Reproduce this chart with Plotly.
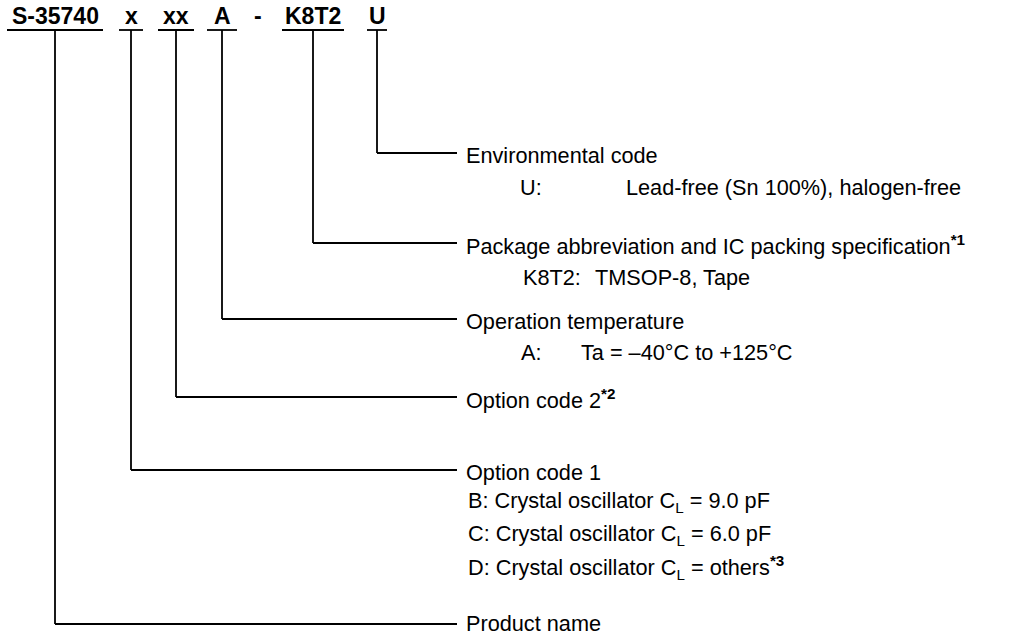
import plotly.graph_objects as go

# ---- data ----
code_labels = ["S-35740", "x", "xx", "A", "-", "K8T2", "U"]
code_centers = [55, 131, 176, 222, 258, 313, 377]
code_underline_half = [48, 12, 18, 15, 0, 31, 10]

# branch: which code each description belongs to (index into code_labels)
branch_code = [6, 5, 3, 2, 1, 0]
branch_y = [153, 243, 319, 397, 470, 624]
headings = [
    "Environmental code",
    "Package abbreviation and IC packing specification<sup><b>*1</b></sup>",
    "Operation temperature",
    "Option code 2<sup><b>*2</b></sup>",
    "Option code 1",
    "Product name",
]

# detail lines
detail_text = [
    "U:", "Lead-free (Sn 100%), halogen-free",
    "K8T2:", "TMSOP-8, Tape",
    "A:", "Ta = \u201340\u00b0C to +125\u00b0C",
    "B: Crystal oscillator C<sub>L</sub> = 9.0 pF",
    "C: Crystal oscillator C<sub>L</sub> = 6.0 pF",
    "D: Crystal oscillator C<sub>L</sub> = others<sup><b>*3</b></sup>",
]
detail_x = [519, 625, 522, 594, 520, 580, 467, 467, 467]
detail_y = [187, 187, 277, 277, 352, 352, 502, 535, 567]

W, H = 1017, 637
line_end_x = 457
text_x = 465
top_y = 30
FONT = "Liberation Sans, Arial, sans-serif"
BODY = 21.7

fig = go.Figure()
fig.add_trace(go.Scatter(x=[0, W], y=[0, H], mode="markers",
                         marker=dict(opacity=0), hoverinfo="skip", showlegend=False))

shapes = []
annotations = []
line_style = dict(color="black", width=1.8)

# code labels + underlines
for lab, cx, hw in zip(code_labels, code_centers, code_underline_half):
    annotations.append(dict(x=cx, y=16, text="<b>%s</b>" % lab, showarrow=False,
                            xanchor="center", yanchor="middle", borderpad=0,
                            font=dict(family=FONT, size=23, color="black")))
    if hw > 0:
        shapes.append(dict(type="line", x0=cx - hw, x1=cx + hw, y0=top_y, y1=top_y,
                           xref="x", yref="y", line=line_style))

# branches
for ci, by, head in zip(branch_code, branch_y, headings):
    sx = code_centers[ci]
    shapes.append(dict(type="line", x0=sx, x1=sx, y0=top_y, y1=by,
                       xref="x", yref="y", line=line_style))
    shapes.append(dict(type="line", x0=sx, x1=line_end_x, y0=by, y1=by,
                       xref="x", yref="y", line=line_style))
    annotations.append(dict(x=text_x, y=min(by + 2, H - 14), text=head, showarrow=False,
                            xanchor="left", yanchor="middle", borderpad=0,
                            font=dict(family=FONT, size=BODY, color="black")))

for t, x, y in zip(detail_text, detail_x, detail_y):
    annotations.append(dict(x=x, y=y, text=t, showarrow=False,
                            xanchor="left", yanchor="middle", borderpad=0,
                            font=dict(family=FONT, size=BODY, color="black")))

fig.update_layout(
    width=W, height=H, margin=dict(l=0, r=0, t=0, b=0),
    paper_bgcolor="white", plot_bgcolor="white",
    xaxis=dict(range=[0, W], visible=False, fixedrange=True),
    yaxis=dict(range=[H, 0], visible=False, fixedrange=True),
    shapes=shapes, annotations=annotations, showlegend=False,
)
fig.write_html("out.html", config={"displayModeBar": False},
               post_script="document.body.style.margin='0';document.body.style.overflow='hidden';")
